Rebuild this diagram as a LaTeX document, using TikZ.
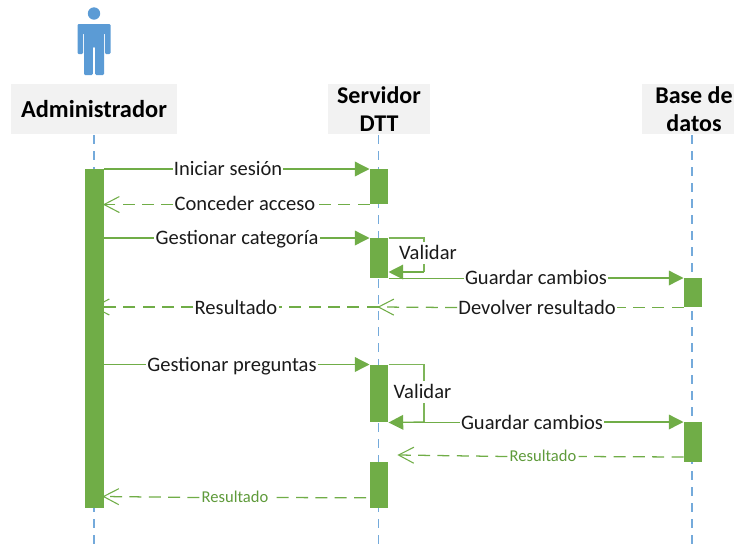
\documentclass[tikz,border=0pt]{standalone}
\usepackage{fontspec}
\setmainfont{Carlito}
\usetikzlibrary{arrows.meta,calc}
\definecolor{gr}{HTML}{70AD47}
\definecolor{grt}{HTML}{5E9A3A}
\definecolor{bl}{HTML}{5B9BD5}
\definecolor{hd}{HTML}{F2F2F2}
\definecolor{tx}{HTML}{1A1A1A}
\pgfdeclarearrow{
  name=OpenVee,
  setup code={\pgfarrowssettipend{0pt}\pgfarrowssetlineend{-0.5pt}\pgfarrowssetbackend{-11.5pt}\pgfarrowssetvisualbackend{-11.5pt}},
  drawing code={\pgfsetdash{}{0pt}\pgfsetlinewidth{0.8pt}\pgfpathmoveto{\pgfpoint{-11.5pt}{6pt}}\pgfpathlineto{\pgfpointorigin}\pgfpathlineto{\pgfpoint{-11.5pt}{-6pt}}\pgfusepathqstroke}
}
\tikzset{
  px/.style={x=0.75pt,y=-0.75pt},
  head/.style={font=\fontsize{18}{21}\selectfont\bfseries,align=center,inner sep=0pt,text=black},
  headbox/.style={head,fill=hd,draw=none},
  life/.style={draw=bl!85,line width=0.8pt,dash pattern=on 7pt off 5pt},
  bar/.style={fill=gr,draw=none,inner sep=0pt},
  msg/.style={draw=gr,line width=1pt},
  thinmsg/.style={draw=gr!90,line width=0.9pt},
  solidtip/.style={msg,-{Triangle[length=11pt,width=11pt,fill=gr]}},
  rep/.style={draw=gr,line width=0.95pt,dash pattern=on 9pt off 5.5pt},
  reptip/.style={rep,-{OpenVee}},
  lab/.style={font=\fontsize{15.4}{18}\selectfont,text=tx,inner sep=0.8pt,text height=12.5pt,text depth=2.5pt},
  slab/.style={font=\fontsize{12.4}{15}\selectfont,text=grt,inner sep=1.5pt,text height=10.5pt,text depth=2.5pt},
}
\newcommand{\mkbar}[5]{\node[bar,anchor=north west,minimum width=#3*0.75pt,minimum height=#5*0.75pt-#4*0.75pt] (#1) at (#2,#4) {};}
\begin{document}
\begin{tikzpicture}[px]
\useasboundingbox (0,0) rectangle (734,554);
% header boxes
\node[headbox,minimum width=124.5pt,minimum height=37.5pt] (admin) at (94,109) {\fontsize{18.3}{21}\selectfont Administrador};
\node[headbox,minimum width=76.5pt,minimum height=37.5pt] (srv) at (379,109) {Servidor\\DTT};
\node[fill=hd,draw=none,inner sep=0pt,minimum width=69pt,minimum height=37.5pt] (dbbox) at (688,109) {};
\node[head] (db) at (694,109) {Base de\\datos};
% actor
\fill[bl] (94,13.5) circle[radius=6.2];
\fill[bl,rounded corners=0.8pt] (77.5,24) -- (110.5,24) -- (110.5,54) -- (105,54) -- (105,33) -- (104,33) -- (104,75) -- (95.2,75) -- (95.2,47) -- (92.8,47) -- (92.8,75) -- (84,75) -- (84,33) -- (83,33) -- (83,54) -- (77.5,54) -- cycle;
% lifelines
\coordinate (adminend) at (94,548);
\coordinate (srvend) at (378.5,548);
\coordinate (dbend) at (692,546);
\draw[life] (94,135) -- (adminend);
\draw[life] (378.5,135) -- (srvend);
\draw[life] (692,135) -- (dbend);
% activation bars
\mkbar{A}{85}{18.5}{169}{508}
\mkbar{S1}{369.5}{18.5}{169}{204}
\mkbar{S2}{369.5}{18.5}{238}{278}
\mkbar{S3}{369.5}{18.5}{364.5}{422}
\mkbar{S4}{369.5}{18.5}{462}{508}
\mkbar{D1}{683.5}{18.5}{278}{307}
\mkbar{D2}{683.5}{18.5}{422}{462}
% labels
\node[lab] (l1) at (228,169) {Iniciar sesión};
\node[lab] (l2) at (245,204) {Conceder acceso};
\node[lab] (l3) at (237,238) {Gestionar categoría};
\node[lab] (l4) at (428,253) {Validar};
\node[lab] (l5) at (536,278) {Guardar cambios};
\node[lab] (l6) at (537,307.5) {Devolver resultado};
\node[lab] (l7) at (236,307.5) {Resultado};
\node[lab] (l8) at (232,365) {Gestionar preguntas};
\node[lab] (l9) at (422.5,392) {Validar};
\node[lab] (l10) at (532,422.5) {Guardar cambios};
\node[slab] (l11) at (543,456.5) {Resultado};
\node[slab] (l12) at (235,497.5) {Resultado};
% messages
\draw[msg] (A.north east) -- (l1.west |- A.north east);
\draw[solidtip] (l1.east |- A.north east) -- (S1.north west);
\draw[rep] (S1.south west) -- (l2.east |- S1.south west);
\draw[reptip] (l2.west |- S1.south west) -- (A.east |- S1.south west);
\draw[msg] (A.east |- S2.north) -- (l3.west |- S2.north);
\draw[solidtip] (l3.east |- S2.north) -- (S2.north west);
% self call 1
\coordinate (v1a) at (424,238);
\coordinate (v1b) at (424,272);
\draw[thinmsg] (S2.north east) -- (v1a) -- (v1a |- l4.north);
\draw[thinmsg] (v1a |- l4.south) -- (v1b);
\draw[solidtip] (v1b) -- (S2.east |- v1b);
% guardar 1
\draw[msg] (S2.south east) -- (l5.west |- S2.south east);
\draw[solidtip] (l5.east |- D1.north) -- (D1.north west);
% devolver
\draw[rep] (D1.south west) -- (l6.east |- D1.south west);
\coordinate (srvhit) at (378.5,307);
\coordinate (adminhit) at (94,307);
\draw[reptip] (l6.west |- D1.south west) -- (srvhit);
\draw[rep] (srvhit) -- (l7.east |- srvhit);
\draw[reptip] (l7.west |- srvhit) -- (adminhit);
% gestionar preguntas
\coordinate (g) at (94,364.5);
\draw[msg] (g) -- (l8.west |- g);
\draw[solidtip] (l8.east |- g) -- (S3.north west);
% self call 2
\coordinate (v2a) at (424,364.5);
\coordinate (v2b) at (424,422);
\draw[thinmsg] (S3.north east) -- (v2a) -- (v2a |- l9.north);
\draw[thinmsg] (v2a |- l9.south) -- (v2b);
\draw[solidtip] (v2b) -- (S3.south east);
% guardar 2
\draw[msg] (S3.south east) -- (l10.west |- S3.south east);
\draw[solidtip] (l10.east |- D2.north) -- (D2.north west);
% resultado 2
\coordinate (r2) at (398.5,455);
\coordinate (r2s) at (683.5,457);
\draw[rep] (r2s) -- (l11.east);
\draw[reptip] (l11.west) -- (r2);
% resultado 3
\coordinate (r3s) at (366,497.8);
\coordinate (r3e) at (103.5,496.5);
\draw[rep] (r3s) -- (l12.east);
\draw[reptip] (l12.west) -- (r3e);
\end{tikzpicture}
\end{document}
